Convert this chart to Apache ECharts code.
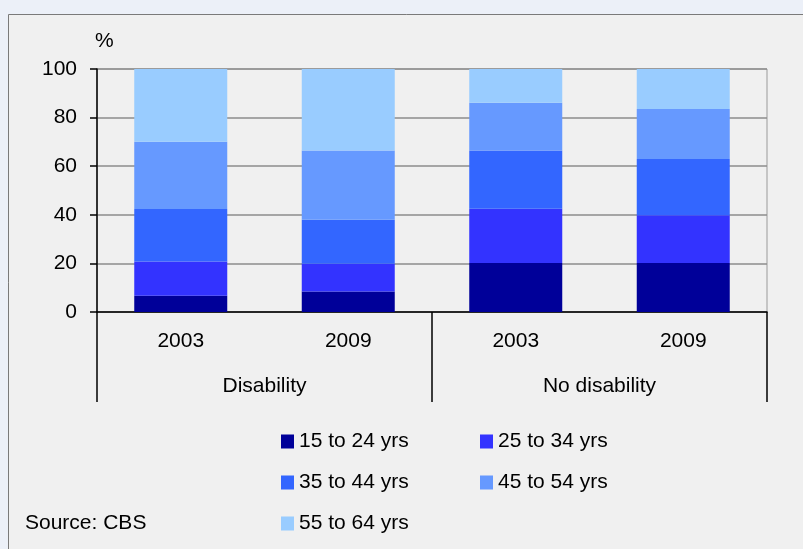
<!DOCTYPE html>
<html>
<head>
<meta charset="utf-8">
<script src="https://cdn.jsdelivr.net/npm/echarts@6/dist/echarts.min.js"></script>
<style>
  html, body { margin: 0; padding: 0; background: #ecf0f8; }
  #chart { width: 803px; height: 549px; }
</style>
</head>
<body>
<div id="chart"></div>
<script>
  // stacked shares (%) per age group
  var years = ["2003", "2009", "2003", "2009"];
  var groups = ["Disability", "No disability"];
  var ageNames = ["15 to 24 yrs", "25 to 34 yrs", "35 to 44 yrs", "45 to 54 yrs", "55 to 64 yrs"];
  var age15 = [6.7, 8.4, 20.2, 20.2];
  var age25 = [14.1, 11.5, 22.3, 19.6];
  var age35 = [21.6, 18.1, 24.0, 23.2];
  var age45 = [27.7, 28.5, 19.6, 20.5];
  var age55 = [29.9, 33.5, 13.9, 16.5];
  var colors = ["#000099", "#3333ff", "#3366ff", "#6699ff", "#99ccff"];

  var FONT = "Liberation Sans, Arial, sans-serif";
  var FS = 21;
  var chart = echarts.init(document.getElementById("chart"));
  var vals = [age15, age25, age35, age45, age55];

  function legendBox(left, items) {
    return { orient: "vertical", left: left, top: 431, height: 200, padding: 0,
      itemGap: 20, itemWidth: 13, itemHeight: 14,
      icon: "rect", data: items, selectedMode: false,
      textStyle: { fontSize: FS, fontFamily: FONT, color: "#000" } };
  }

  chart.setOption({
    animation: false,
    backgroundColor: "#ecf0f8",
    textStyle: { fontFamily: FONT, color: "#000" },
    graphic: [
      { type: "rect", z: -10, shape: { x: 8.5, y: 14.5, width: 820, height: 560 },
        style: { fill: "#f0f0f0", stroke: "#7a7a7a", lineWidth: 1 } },
      { type: "text", left: 25, top: 513,
        style: { text: "Source: CBS", fontSize: FS, fontFamily: FONT, fill: "#000" } }
    ],
    grid: { left: 97, right: 36, top: 69, bottom: 237, show: true,
      borderColor: "#9a9a9a", borderWidth: 1, backgroundColor: "transparent" },
    legend: [
      legendBox(281, [ageNames[0], ageNames[2], ageNames[4]]),
      legendBox(480, [ageNames[1], ageNames[3]])
    ],
    xAxis: [
      { type: "category", data: years, position: "bottom",
        axisLine: { lineStyle: { color: "#000", width: 1.5 } },
        axisTick: { show: false },
        axisLabel: { fontSize: FS, color: "#000", margin: 19 } },
      { type: "category", data: groups, position: "bottom",
        axisLine: { show: false },
        axisTick: { show: true, length: 90, interval: 0, lineStyle: { color: "#000", width: 1.5 } },
        axisLabel: { fontSize: FS, color: "#000", margin: 64, interval: 0 } }
    ],
    yAxis: {
      type: "value", min: 0, max: 100, interval: 20,
      name: "%", nameLocation: "end", nameGap: 17,
      nameTextStyle: { fontSize: FS, color: "#000", align: "left", padding: [0, 0, 0, -2] },
      axisLine: { show: true, lineStyle: { color: "#000", width: 1.5 } },
      axisTick: { show: true, length: 7, lineStyle: { color: "#000", width: 1.5 } },
      axisLabel: { fontSize: FS, color: "#000", margin: 20 },
      splitLine: { lineStyle: { color: "#8c8c8c", width: 1.5 } }
    },
    series: ageNames.map(function (n, i) {
      return { name: n, type: "bar", stack: "a", xAxisIndex: 0, barWidth: 93,
        itemStyle: { color: colors[i] }, data: vals[i] };
    })
  });
</script>
</body>
</html>
